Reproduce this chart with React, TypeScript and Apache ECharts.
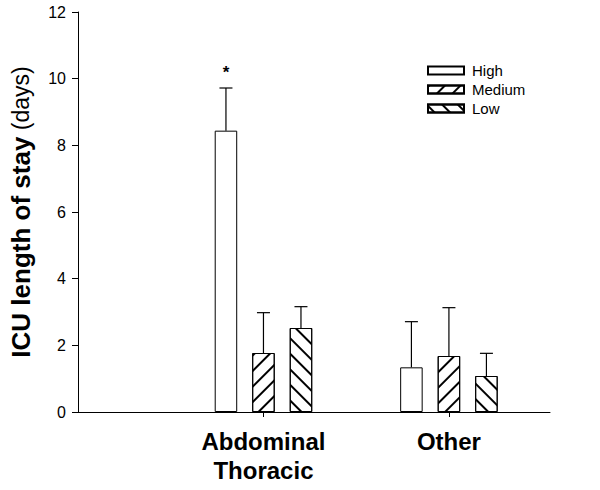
import React, { useEffect, useRef } from "react";
import * as echarts from "echarts";

const categories = ["Abdominal\nThoracic", "Other"];
const categoryPositions = [1, 2];
const seriesNames = ["High", "Medium", "Low"];
const meanHigh = [8.44, 1.34];
const meanMedium = [1.77, 1.68];
const meanLow = [2.52, 1.08];
const upperHigh = [9.72, 2.71];
const upperMedium = [2.98, 3.13];
const upperLow = [3.16, 1.76];
const markHigh = ["*", ""];
const markMedium = ["", ""];
const markLow = ["", ""];
const yTicks = [0, 2, 4, 6, 8, 10, 12];

const FONT = "Liberation Sans, Arial, Helvetica, sans-serif";
const BAR_W = 22.5;
const BAR_GAP = 0.667;

export default function App() {
  const ref = useRef<HTMLDivElement>(null);
  useEffect(() => {
    if (!ref.current) return;
    const chart = echarts.init(ref.current, undefined, { renderer: "svg" });
    const means = [meanHigh, meanMedium, meanLow];
    const uppers = [upperHigh, upperMedium, upperLow];
    const marks = [markHigh, markMedium, markLow];
    const decals: any[] = [
      null,
      { symbol: "rect", symbolSize: 1, dashArrayX: [1, 0], dashArrayY: [1.2, 8.2], rotation: -Math.PI / 4, color: "#000" },
      { symbol: "rect", symbolSize: 1, dashArrayX: [1, 0], dashArrayY: [1.2, 8.2], rotation: Math.PI / 4, color: "#000" },
    ];
    const barSeries = seriesNames.map((name, i) => ({
      name,
      type: "bar",
      barWidth: BAR_W,
      barGap: BAR_GAP * 100 + "%",
      data: categoryPositions.map((x, j) => [x, means[i][j]]),
      itemStyle: {
        color: "#fff",
        borderColor: "#000",
        borderWidth: 1,
        ...(decals[i] ? { decal: decals[i] } : {}),
      },
      z: 2,
    }));
    const errSeries = seriesNames.map((name, i) => {
      const offset = (i - 1) * BAR_W * (1 + BAR_GAP);
      return {
        name: name + " error",
        type: "custom",
        z: 3,
        data: categoryPositions.map((x, j) => [x, means[i][j], uppers[i][j], marks[i][j]]),
        renderItem: (params: any, api: any) => {
          const x = api.value(0);
          const base = api.coord([x, api.value(1)]);
          const top = api.coord([x, api.value(2)]);
          const cx = base[0] + offset;
          const children: any[] = [
            { type: "line", shape: { x1: cx, y1: base[1], x2: cx, y2: top[1] }, style: { stroke: "#000", lineWidth: 1.2 } },
            { type: "line", shape: { x1: cx - 6.5, y1: top[1], x2: cx + 6.5, y2: top[1] }, style: { stroke: "#000", lineWidth: 1.2 } },
          ];
          const mark = marks[i][params.dataIndex];
          if (mark) {
            children.push({
              type: "text",
              x: cx,
              y: top[1] - 16,
              style: { text: mark, font: `bold 17px ${FONT}`, textAlign: "center", textVerticalAlign: "middle", fill: "#000" },
            });
          }
          return { type: "group", children };
        },
      };
    });
    chart.setOption({
      animation: false,
      backgroundColor: "#fff",
      grid: { left: 74, right: 50, top: 12, bottom: 78, containLabel: false },
      legend: {
        data: seriesNames,
        orient: "vertical",
        left: 427,
        top: 63,
        padding: 0,
        itemWidth: 36,
        itemHeight: 8,
        itemGap: 4,
        icon: "rect",
        textStyle: { fontFamily: FONT, fontSize: 15, color: "#000", lineHeight: 14, padding: [0, 0, 0, 3] },
      },
      xAxis: {
        type: "value",
        min: 0,
        max: 2.545,
        splitLine: { show: false },
        axisLine: { show: true, lineStyle: { color: "#000", width: 1 } },
        axisTick: { show: true, customValues: categoryPositions, length: 5, lineStyle: { color: "#000" } },
        axisLabel: {
          customValues: categoryPositions,
          formatter: (v: number) => {
            const idx = categoryPositions.indexOf(v);
            return idx >= 0 ? categories[idx] : "";
          },
          fontFamily: FONT,
          fontSize: 24,
          fontWeight: "bold",
          color: "#000",
          lineHeight: 29,
          margin: 15,
        },
      },
      yAxis: {
        type: "value",
        min: 0,
        max: 12,
        interval: 2,
        splitLine: { show: false },
        axisLine: { show: true, lineStyle: { color: "#000", width: 1 } },
        axisTick: { show: true, length: 6, lineStyle: { color: "#000" } },
        axisLabel: {
          fontFamily: FONT,
          fontSize: 16,
          color: "#000",
          margin: 12,
          formatter: (v: number) => (yTicks.includes(v) ? String(v) : ""),
        },
        name: "{b|ICU length of stay}{n| (days)}",
        nameLocation: "middle",
        nameGap: 44,
        nameTextStyle: {
          rich: {
            b: { fontFamily: FONT, fontSize: 26, fontWeight: "bold", color: "#000" },
            n: { fontFamily: FONT, fontSize: 23, color: "#000" },
          },
        },
      },
      series: [...barSeries, ...errSeries],
    });
    return () => chart.dispose();
  }, []);
  return <div ref={ref} style={{ position: "absolute", left: 0, top: 0, width: 600, height: 490 }} />;
}
